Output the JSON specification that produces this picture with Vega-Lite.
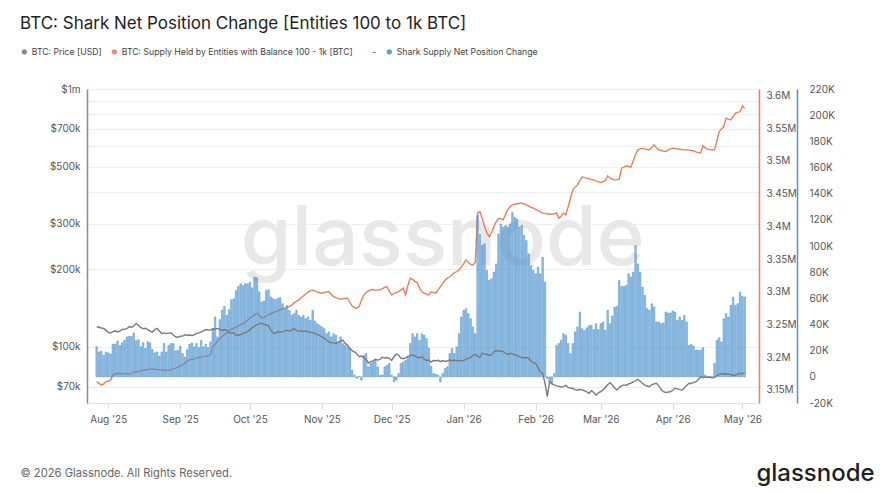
{
  "$schema": "https://vega.github.io/schema/vega-lite/v6.json",
  "width": 672,
  "height": 314,
  "autosize": {"type": "none"},
  "padding": {"left": 87, "top": 89, "right": 128, "bottom": 90},
  "background": "#ffffff",
  "config": {
    "font": "Inter",
    "view": {"stroke": null},
    "axis": {"labelFont": "Inter", "labelFontSize": 10, "labelColor": "#555555", "titleFont": "Inter"},
    "legend": {"labelFont": "Inter"}
  },
  "title": {
    "text": "BTC: Shark Net Position Change [Entities 100 to 1k BTC]",
    "anchor": "start",
    "frame": "group",
    "dx": -67,
    "offset": 14,
    "fontSize": 17,
    "fontWeight": 400,
    "color": "#1e1e1e",
    "font": "Inter"
  },
  "data": {
    "values": [
      {"date": "2025-07-27", "price": 119500, "supply": 3162700, "net": 23000},
      {"date": "2025-07-28", "price": 119000, "supply": 3160000, "net": 19000},
      {"date": "2025-07-29", "price": 118200, "supply": 3157700, "net": 19500},
      {"date": "2025-07-30", "price": 117800, "supply": 3159000, "net": 16500},
      {"date": "2025-07-31", "price": 116000, "supply": 3162700, "net": 19000},
      {"date": "2025-08-01", "price": 113700, "supply": 3163500, "net": 18300},
      {"date": "2025-08-02", "price": 113000, "supply": 3165300, "net": 17300},
      {"date": "2025-08-03", "price": 114500, "supply": 3172900, "net": 25000},
      {"date": "2025-08-04", "price": 115300, "supply": 3174000, "net": 25000},
      {"date": "2025-08-05", "price": 114200, "supply": 3175500, "net": 27400},
      {"date": "2025-08-06", "price": 115000, "supply": 3175000, "net": 24000},
      {"date": "2025-08-07", "price": 117000, "supply": 3174800, "net": 26000},
      {"date": "2025-08-08", "price": 116800, "supply": 3175200, "net": 28000},
      {"date": "2025-08-09", "price": 117500, "supply": 3174600, "net": 30500},
      {"date": "2025-08-10", "price": 119500, "supply": 3174500, "net": 31000},
      {"date": "2025-08-11", "price": 119000, "supply": 3176000, "net": 31000},
      {"date": "2025-08-12", "price": 120500, "supply": 3177200, "net": 33500},
      {"date": "2025-08-13", "price": 123200, "supply": 3178000, "net": 27500},
      {"date": "2025-08-14", "price": 121000, "supply": 3177800, "net": 28400},
      {"date": "2025-08-15", "price": 118500, "supply": 3179000, "net": 23000},
      {"date": "2025-08-16", "price": 117600, "supply": 3180000, "net": 26000},
      {"date": "2025-08-17", "price": 118000, "supply": 3180800, "net": 21600},
      {"date": "2025-08-18", "price": 116500, "supply": 3181200, "net": 26700},
      {"date": "2025-08-19", "price": 115000, "supply": 3181600, "net": 26000},
      {"date": "2025-08-20", "price": 114000, "supply": 3182200, "net": 20800},
      {"date": "2025-08-21", "price": 116500, "supply": 3181500, "net": 18300},
      {"date": "2025-08-22", "price": 117800, "supply": 3181000, "net": 19000},
      {"date": "2025-08-23", "price": 115200, "supply": 3180800, "net": 15700},
      {"date": "2025-08-24", "price": 112700, "supply": 3180600, "net": 19000},
      {"date": "2025-08-25", "price": 113200, "supply": 3180000, "net": 25400},
      {"date": "2025-08-26", "price": 112500, "supply": 3179800, "net": 19000},
      {"date": "2025-08-27", "price": 113000, "supply": 3179500, "net": 24000},
      {"date": "2025-08-28", "price": 113300, "supply": 3181000, "net": 25400},
      {"date": "2025-08-29", "price": 111000, "supply": 3182200, "net": 25400},
      {"date": "2025-08-30", "price": 109300, "supply": 3183200, "net": 19800},
      {"date": "2025-08-31", "price": 108800, "supply": 3185000, "net": 20300},
      {"date": "2025-09-01", "price": 109800, "supply": 3186800, "net": 23400},
      {"date": "2025-09-02", "price": 110000, "supply": 3188200, "net": 17800},
      {"date": "2025-09-03", "price": 111300, "supply": 3191000, "net": 15200},
      {"date": "2025-09-04", "price": 110800, "supply": 3193800, "net": 20800},
      {"date": "2025-09-05", "price": 111000, "supply": 3195900, "net": 24900},
      {"date": "2025-09-06", "price": 110600, "supply": 3196500, "net": 25900},
      {"date": "2025-09-07", "price": 111200, "supply": 3197500, "net": 22900},
      {"date": "2025-09-08", "price": 112700, "supply": 3199000, "net": 25400},
      {"date": "2025-09-09", "price": 113200, "supply": 3199800, "net": 22300},
      {"date": "2025-09-10", "price": 114000, "supply": 3200300, "net": 27900},
      {"date": "2025-09-11", "price": 115200, "supply": 3200900, "net": 22900},
      {"date": "2025-09-12", "price": 116700, "supply": 3201800, "net": 24900},
      {"date": "2025-09-13", "price": 116200, "supply": 3202500, "net": 22300},
      {"date": "2025-09-14", "price": 116000, "supply": 3203500, "net": 26700},
      {"date": "2025-09-15", "price": 117400, "supply": 3216200, "net": 36800},
      {"date": "2025-09-16", "price": 117000, "supply": 3220000, "net": 45700},
      {"date": "2025-09-17", "price": 117800, "supply": 3224000, "net": 30500},
      {"date": "2025-09-18", "price": 116700, "supply": 3228000, "net": 43700},
      {"date": "2025-09-19", "price": 116200, "supply": 3231500, "net": 50800},
      {"date": "2025-09-20", "price": 116400, "supply": 3234500, "net": 53800},
      {"date": "2025-09-21", "price": 116000, "supply": 3237000, "net": 47000},
      {"date": "2025-09-22", "price": 113500, "supply": 3240000, "net": 51300},
      {"date": "2025-09-23", "price": 112800, "supply": 3242500, "net": 58900},
      {"date": "2025-09-24", "price": 113200, "supply": 3244300, "net": 59700},
      {"date": "2025-09-25", "price": 111000, "supply": 3246000, "net": 66000},
      {"date": "2025-09-26", "price": 110800, "supply": 3247800, "net": 69000},
      {"date": "2025-09-27", "price": 111500, "supply": 3249500, "net": 71100},
      {"date": "2025-09-28", "price": 112700, "supply": 3250900, "net": 69600},
      {"date": "2025-09-29", "price": 113300, "supply": 3254000, "net": 71100},
      {"date": "2025-09-30", "price": 114400, "supply": 3257000, "net": 71100},
      {"date": "2025-10-01", "price": 116500, "supply": 3260000, "net": 72100},
      {"date": "2025-10-02", "price": 118500, "supply": 3262100, "net": 68000},
      {"date": "2025-10-03", "price": 120200, "supply": 3265000, "net": 76200},
      {"date": "2025-10-04", "price": 121800, "supply": 3267300, "net": 75700},
      {"date": "2025-10-05", "price": 122500, "supply": 3264000, "net": 65000},
      {"date": "2025-10-06", "price": 123500, "supply": 3259600, "net": 57000},
      {"date": "2025-10-07", "price": 122000, "supply": 3261000, "net": 58000},
      {"date": "2025-10-08", "price": 121500, "supply": 3263000, "net": 66000},
      {"date": "2025-10-09", "price": 120500, "supply": 3265000, "net": 66500},
      {"date": "2025-10-10", "price": 116000, "supply": 3266500, "net": 61000},
      {"date": "2025-10-11", "price": 113200, "supply": 3268000, "net": 59700},
      {"date": "2025-10-12", "price": 112700, "supply": 3269700, "net": 59000},
      {"date": "2025-10-13", "price": 114500, "supply": 3271000, "net": 60000},
      {"date": "2025-10-14", "price": 113800, "supply": 3272500, "net": 60500},
      {"date": "2025-10-15", "price": 114400, "supply": 3274000, "net": 55900},
      {"date": "2025-10-16", "price": 115000, "supply": 3275200, "net": 52000},
      {"date": "2025-10-17", "price": 116000, "supply": 3276500, "net": 54600},
      {"date": "2025-10-18", "price": 115000, "supply": 3277400, "net": 50800},
      {"date": "2025-10-19", "price": 116200, "supply": 3280000, "net": 47000},
      {"date": "2025-10-20", "price": 117500, "supply": 3283000, "net": 48300},
      {"date": "2025-10-21", "price": 115500, "supply": 3285500, "net": 50800},
      {"date": "2025-10-22", "price": 114800, "supply": 3287600, "net": 47000},
      {"date": "2025-10-23", "price": 115500, "supply": 3290500, "net": 45700},
      {"date": "2025-10-24", "price": 114400, "supply": 3293500, "net": 47000},
      {"date": "2025-10-25", "price": 115000, "supply": 3296500, "net": 44400},
      {"date": "2025-10-26", "price": 114400, "supply": 3299500, "net": 45700},
      {"date": "2025-10-27", "price": 113800, "supply": 3301500, "net": 43200},
      {"date": "2025-10-28", "price": 113200, "supply": 3302900, "net": 50800},
      {"date": "2025-10-29", "price": 112700, "supply": 3301000, "net": 42700},
      {"date": "2025-10-30", "price": 111500, "supply": 3299500, "net": 40600},
      {"date": "2025-10-31", "price": 110500, "supply": 3298500, "net": 39400},
      {"date": "2025-11-01", "price": 109300, "supply": 3297900, "net": 38100},
      {"date": "2025-11-02", "price": 108000, "supply": 3299000, "net": 36800},
      {"date": "2025-11-03", "price": 106000, "supply": 3299800, "net": 33000},
      {"date": "2025-11-04", "price": 104500, "supply": 3300300, "net": 34300},
      {"date": "2025-11-05", "price": 103800, "supply": 3296000, "net": 30500},
      {"date": "2025-11-06", "price": 103500, "supply": 3292700, "net": 33000},
      {"date": "2025-11-07", "price": 103000, "supply": 3291000, "net": 31700},
      {"date": "2025-11-08", "price": 104200, "supply": 3289500, "net": 26700},
      {"date": "2025-11-09", "price": 105000, "supply": 3288700, "net": 30500},
      {"date": "2025-11-10", "price": 106100, "supply": 3289500, "net": 25400},
      {"date": "2025-11-11", "price": 103000, "supply": 3290000, "net": 24100},
      {"date": "2025-11-12", "price": 101500, "supply": 3290200, "net": 22900},
      {"date": "2025-11-13", "price": 98600, "supply": 3284000, "net": 21600},
      {"date": "2025-11-14", "price": 96500, "supply": 3278400, "net": 5100},
      {"date": "2025-11-15", "price": 95500, "supply": 3276000, "net": 1300},
      {"date": "2025-11-16", "price": 94000, "supply": 3274900, "net": -1300},
      {"date": "2025-11-17", "price": 91500, "supply": 3277400, "net": 400},
      {"date": "2025-11-18", "price": 92000, "supply": 3287000, "net": -2500},
      {"date": "2025-11-19", "price": 90800, "supply": 3295300, "net": 16500},
      {"date": "2025-11-20", "price": 89400, "supply": 3299000, "net": 17800},
      {"date": "2025-11-21", "price": 86500, "supply": 3301500, "net": 7600},
      {"date": "2025-11-22", "price": 87500, "supply": 3302900, "net": 10200},
      {"date": "2025-11-23", "price": 88200, "supply": 3303500, "net": 11400},
      {"date": "2025-11-24", "price": 89500, "supply": 3302500, "net": 12700},
      {"date": "2025-11-25", "price": 88800, "supply": 3303000, "net": 7600},
      {"date": "2025-11-26", "price": 89400, "supply": 3302900, "net": 1300},
      {"date": "2025-11-27", "price": 91000, "supply": 3305000, "net": 1300},
      {"date": "2025-11-28", "price": 90500, "supply": 3306800, "net": 7600},
      {"date": "2025-11-29", "price": 90800, "supply": 3308000, "net": 8900},
      {"date": "2025-11-30", "price": 90200, "supply": 3301000, "net": 10200},
      {"date": "2025-12-01", "price": 88500, "supply": 3295300, "net": 1300},
      {"date": "2025-12-02", "price": 91500, "supply": 3297500, "net": -3800},
      {"date": "2025-12-03", "price": 93700, "supply": 3299000, "net": -2500},
      {"date": "2025-12-04", "price": 92800, "supply": 3300300, "net": 2500},
      {"date": "2025-12-05", "price": 90200, "supply": 3303000, "net": 10200},
      {"date": "2025-12-06", "price": 89800, "supply": 3305500, "net": 11400},
      {"date": "2025-12-07", "price": 90500, "supply": 3295300, "net": 12700},
      {"date": "2025-12-08", "price": 91800, "supply": 3310000, "net": 15200},
      {"date": "2025-12-09", "price": 92400, "supply": 3320800, "net": 25400},
      {"date": "2025-12-10", "price": 92900, "supply": 3319000, "net": 33000},
      {"date": "2025-12-11", "price": 92200, "supply": 3316000, "net": 30500},
      {"date": "2025-12-12", "price": 91000, "supply": 3314100, "net": 33000},
      {"date": "2025-12-13", "price": 90600, "supply": 3306000, "net": 27900},
      {"date": "2025-12-14", "price": 91500, "supply": 3300000, "net": 33000},
      {"date": "2025-12-15", "price": 89500, "supply": 3297900, "net": 31700},
      {"date": "2025-12-16", "price": 88500, "supply": 3296500, "net": 29200},
      {"date": "2025-12-17", "price": 88800, "supply": 3295300, "net": 22000},
      {"date": "2025-12-18", "price": 87200, "supply": 3300000, "net": 8000},
      {"date": "2025-12-19", "price": 88400, "supply": 3299000, "net": 2500},
      {"date": "2025-12-20", "price": 88200, "supply": 3298000, "net": 2000},
      {"date": "2025-12-21", "price": 88600, "supply": 3302900, "net": 1300},
      {"date": "2025-12-22", "price": 87500, "supply": 3308000, "net": -3800},
      {"date": "2025-12-23", "price": 88400, "supply": 3313000, "net": 2500},
      {"date": "2025-12-24", "price": 87800, "supply": 3318000, "net": 6400},
      {"date": "2025-12-25", "price": 88000, "supply": 3320800, "net": 7600},
      {"date": "2025-12-26", "price": 88800, "supply": 3323000, "net": 17800},
      {"date": "2025-12-27", "price": 88300, "supply": 3326000, "net": 21600},
      {"date": "2025-12-28", "price": 88600, "supply": 3329000, "net": 17800},
      {"date": "2025-12-29", "price": 88200, "supply": 3331000, "net": 22900},
      {"date": "2025-12-30", "price": 88300, "supply": 3333500, "net": 33000},
      {"date": "2025-12-31", "price": 88500, "supply": 3338000, "net": 45700},
      {"date": "2026-01-01", "price": 88200, "supply": 3343000, "net": 50800},
      {"date": "2026-01-02", "price": 89500, "supply": 3348800, "net": 52100},
      {"date": "2026-01-03", "price": 90200, "supply": 3345000, "net": 48300},
      {"date": "2026-01-04", "price": 90800, "supply": 3342000, "net": 44400},
      {"date": "2026-01-05", "price": 92500, "supply": 3341100, "net": 38100},
      {"date": "2026-01-06", "price": 93400, "supply": 3345000, "net": 33000},
      {"date": "2026-01-07", "price": 92000, "supply": 3420200, "net": 123200},
      {"date": "2026-01-08", "price": 91200, "supply": 3422600, "net": 109000},
      {"date": "2026-01-09", "price": 94300, "supply": 3412000, "net": 100300},
      {"date": "2026-01-10", "price": 93700, "supply": 3399700, "net": 101600},
      {"date": "2026-01-11", "price": 93500, "supply": 3390000, "net": 81300},
      {"date": "2026-01-12", "price": 92500, "supply": 3384400, "net": 73700},
      {"date": "2026-01-13", "price": 92900, "supply": 3390000, "net": 74900},
      {"date": "2026-01-14", "price": 95500, "supply": 3399700, "net": 80000},
      {"date": "2026-01-15", "price": 96800, "supply": 3407000, "net": 86300},
      {"date": "2026-01-16", "price": 96000, "supply": 3412500, "net": 109200},
      {"date": "2026-01-17", "price": 96500, "supply": 3411500, "net": 116800},
      {"date": "2026-01-18", "price": 95800, "supply": 3410000, "net": 114300},
      {"date": "2026-01-19", "price": 94200, "supply": 3418000, "net": 115600},
      {"date": "2026-01-20", "price": 93500, "supply": 3425200, "net": 114300},
      {"date": "2026-01-21", "price": 94300, "supply": 3430000, "net": 116800},
      {"date": "2026-01-22", "price": 93800, "supply": 3432900, "net": 125700},
      {"date": "2026-01-23", "price": 93000, "supply": 3434000, "net": 121900},
      {"date": "2026-01-24", "price": 92500, "supply": 3434500, "net": 120600},
      {"date": "2026-01-25", "price": 91500, "supply": 3435000, "net": 114300},
      {"date": "2026-01-26", "price": 90800, "supply": 3435500, "net": 115600},
      {"date": "2026-01-27", "price": 90500, "supply": 3434500, "net": 108000},
      {"date": "2026-01-28", "price": 91000, "supply": 3433000, "net": 104100},
      {"date": "2026-01-29", "price": 90200, "supply": 3431000, "net": 94000},
      {"date": "2026-01-30", "price": 88000, "supply": 3429000, "net": 85100},
      {"date": "2026-01-31", "price": 86800, "supply": 3427800, "net": 81300},
      {"date": "2026-02-01", "price": 86200, "supply": 3426000, "net": 78700},
      {"date": "2026-02-02", "price": 83000, "supply": 3424000, "net": 83800},
      {"date": "2026-02-03", "price": 80000, "supply": 3422000, "net": 78700},
      {"date": "2026-02-04", "price": 78800, "supply": 3420200, "net": 91400},
      {"date": "2026-02-05", "price": 72500, "supply": 3419500, "net": 72400},
      {"date": "2026-02-06", "price": 64100, "supply": 3419000, "net": -1300},
      {"date": "2026-02-07", "price": 73200, "supply": 3419100, "net": -3800},
      {"date": "2026-02-08", "price": 71800, "supply": 3418500, "net": -5100},
      {"date": "2026-02-09", "price": 71100, "supply": 3419500, "net": 2500},
      {"date": "2026-02-10", "price": 70500, "supply": 3420200, "net": 24100},
      {"date": "2026-02-11", "price": 70200, "supply": 3412500, "net": 25400},
      {"date": "2026-02-12", "price": 69800, "supply": 3416000, "net": 27900},
      {"date": "2026-02-13", "price": 70000, "supply": 3420200, "net": 33000},
      {"date": "2026-02-14", "price": 70800, "supply": 3417600, "net": 31700},
      {"date": "2026-02-15", "price": 69500, "supply": 3430000, "net": 25400},
      {"date": "2026-02-16", "price": 69200, "supply": 3443000, "net": 17800},
      {"date": "2026-02-17", "price": 69000, "supply": 3455800, "net": 25400},
      {"date": "2026-02-18", "price": 68200, "supply": 3460000, "net": 34300},
      {"date": "2026-02-19", "price": 67800, "supply": 3463400, "net": 38100},
      {"date": "2026-02-20", "price": 68400, "supply": 3470000, "net": 49500},
      {"date": "2026-02-21", "price": 68000, "supply": 3475600, "net": 36800},
      {"date": "2026-02-22", "price": 67500, "supply": 3474500, "net": 35600},
      {"date": "2026-02-23", "price": 66800, "supply": 3473700, "net": 37500},
      {"date": "2026-02-24", "price": 66000, "supply": 3472500, "net": 39000},
      {"date": "2026-02-25", "price": 67500, "supply": 3471800, "net": 39400},
      {"date": "2026-02-26", "price": 66500, "supply": 3471100, "net": 36000},
      {"date": "2026-02-27", "price": 65000, "supply": 3469500, "net": 40600},
      {"date": "2026-02-28", "price": 66200, "supply": 3468000, "net": 36100},
      {"date": "2026-03-01", "price": 67000, "supply": 3467000, "net": 40600},
      {"date": "2026-03-02", "price": 68000, "supply": 3468500, "net": 41900},
      {"date": "2026-03-03", "price": 69500, "supply": 3470000, "net": 35600},
      {"date": "2026-03-04", "price": 71200, "supply": 3477200, "net": 50800},
      {"date": "2026-03-05", "price": 72500, "supply": 3474000, "net": 40600},
      {"date": "2026-03-06", "price": 71000, "supply": 3472000, "net": 46500},
      {"date": "2026-03-07", "price": 69200, "supply": 3471100, "net": 53300},
      {"date": "2026-03-08", "price": 68000, "supply": 3471500, "net": 53800},
      {"date": "2026-03-09", "price": 69600, "supply": 3472200, "net": 73700},
      {"date": "2026-03-10", "price": 70500, "supply": 3489000, "net": 69100},
      {"date": "2026-03-11", "price": 71100, "supply": 3490500, "net": 69100},
      {"date": "2026-03-12", "price": 70800, "supply": 3492500, "net": 69800},
      {"date": "2026-03-13", "price": 71800, "supply": 3491500, "net": 78700},
      {"date": "2026-03-14", "price": 72200, "supply": 3490500, "net": 76200},
      {"date": "2026-03-15", "price": 73000, "supply": 3500000, "net": 80000},
      {"date": "2026-03-16", "price": 73800, "supply": 3510000, "net": 100300},
      {"date": "2026-03-17", "price": 74800, "supply": 3517000, "net": 86300},
      {"date": "2026-03-18", "price": 73500, "supply": 3518500, "net": 80000},
      {"date": "2026-03-19", "price": 72200, "supply": 3519600, "net": 68600},
      {"date": "2026-03-20", "price": 71000, "supply": 3518500, "net": 62200},
      {"date": "2026-03-21", "price": 70400, "supply": 3517500, "net": 52100},
      {"date": "2026-03-22", "price": 70000, "supply": 3517000, "net": 50800},
      {"date": "2026-03-23", "price": 71200, "supply": 3520000, "net": 55900},
      {"date": "2026-03-24", "price": 71800, "supply": 3524600, "net": 53300},
      {"date": "2026-03-25", "price": 72200, "supply": 3520000, "net": 41900},
      {"date": "2026-03-26", "price": 70500, "supply": 3517000, "net": 41900},
      {"date": "2026-03-27", "price": 68400, "supply": 3516000, "net": 40600},
      {"date": "2026-03-28", "price": 66900, "supply": 3515000, "net": 41100},
      {"date": "2026-03-29", "price": 66500, "supply": 3514400, "net": 49500},
      {"date": "2026-03-30", "price": 66700, "supply": 3516500, "net": 48800},
      {"date": "2026-03-31", "price": 66900, "supply": 3518500, "net": 48800},
      {"date": "2026-04-01", "price": 67800, "supply": 3519600, "net": 50300},
      {"date": "2026-04-02", "price": 69000, "supply": 3519000, "net": 49500},
      {"date": "2026-04-03", "price": 68600, "supply": 3518500, "net": 43200},
      {"date": "2026-04-04", "price": 68200, "supply": 3518000, "net": 45700},
      {"date": "2026-04-05", "price": 68000, "supply": 3517500, "net": 43200},
      {"date": "2026-04-06", "price": 69200, "supply": 3517200, "net": 47000},
      {"date": "2026-04-07", "price": 70800, "supply": 3517000, "net": 41900},
      {"date": "2026-04-08", "price": 72200, "supply": 3516500, "net": 24100},
      {"date": "2026-04-09", "price": 72000, "supply": 3516000, "net": 24900},
      {"date": "2026-04-10", "price": 72800, "supply": 3515400, "net": 23400},
      {"date": "2026-04-11", "price": 73200, "supply": 3514000, "net": 20300},
      {"date": "2026-04-12", "price": 74500, "supply": 3512800, "net": 20300},
      {"date": "2026-04-13", "price": 76500, "supply": 3511900, "net": 20300},
      {"date": "2026-04-14", "price": 75800, "supply": 3523100, "net": 22300},
      {"date": "2026-04-15", "price": 76400, "supply": 3520000, "net": 1300},
      {"date": "2026-04-16", "price": 76000, "supply": 3518000, "net": 300},
      {"date": "2026-04-17", "price": 76200, "supply": 3517500, "net": 500},
      {"date": "2026-04-18", "price": 75600, "supply": 3517200, "net": 300},
      {"date": "2026-04-19", "price": 76000, "supply": 3517000, "net": 10200},
      {"date": "2026-04-20", "price": 77200, "supply": 3530000, "net": 27900},
      {"date": "2026-04-21", "price": 78000, "supply": 3545000, "net": 29900},
      {"date": "2026-04-22", "price": 78900, "supply": 3549000, "net": 26700},
      {"date": "2026-04-23", "price": 78200, "supply": 3552600, "net": 44400},
      {"date": "2026-04-24", "price": 78600, "supply": 3565400, "net": 48300},
      {"date": "2026-04-25", "price": 78400, "supply": 3564000, "net": 45700},
      {"date": "2026-04-26", "price": 78000, "supply": 3562800, "net": 54600},
      {"date": "2026-04-27", "price": 77500, "supply": 3568000, "net": 61000},
      {"date": "2026-04-28", "price": 77700, "supply": 3573000, "net": 54600},
      {"date": "2026-04-29", "price": 78300, "supply": 3574200, "net": 55900},
      {"date": "2026-04-30", "price": 78900, "supply": 3575500, "net": 64800},
      {"date": "2026-05-01", "price": 78500, "supply": 3584200, "net": 61500},
      {"date": "2026-05-02", "price": 79300, "supply": 3580700, "net": 61000}
    ]
  },
  "encoding": {
    "x": {
      "field": "date",
      "type": "temporal",
      "scale": {
        "type": "utc",
        "domain": [
          {"year": 2025, "month": 7, "date": 25, "utc": true},
          {"year": 2026, "month": 5, "date": 6, "utc": true}
        ]
      },
      "axis": {
        "title": "© 2026 Glassnode. All Rights Reserved.",
        "titleX": -67,
        "titleY": 73,
        "titleAlign": "left",
        "titleBaseline": "alphabetic",
        "titleFontSize": 11.2,
        "titleFontWeight": 400,
        "titleColor": "#666666",
        "format": "%b '%y",
        "tickCount": {"interval": "month", "step": 1},
        "grid": false,
        "domainColor": "#e3e3e3",
        "tickColor": "#dddddd",
        "tickSize": 6,
        "labelPadding": 5,
        "labelOverlap": false,
        "labelFlush": false
      }
    }
  },
  "layer": [
    {
      "data": {"values": [{"date": "2025-12-23", "level": 0.44, "label": "glassnode"}]},
      "mark": {
        "type": "text",
        "font": "Inter",
        "fontSize": 82,
        "fontWeight": 500,
        "color": "#e8e8e8",
        "align": "center",
        "baseline": "alphabetic"
      },
      "encoding": {
        "y": {"field": "level", "type": "quantitative", "scale": {"domain": [0, 1], "nice": false}, "axis": null},
        "text": {"field": "label", "type": "nominal"}
      }
    },
    {
      "mark": {"type": "line", "color": "#f27c59", "strokeWidth": 1.4},
      "encoding": {
        "y": {
          "field": "supply",
          "type": "quantitative",
          "scale": {"domain": [3130000, 3610000], "zero": false, "nice": false},
          "axis": {
            "orient": "right",
            "title": null,
            "values": [3150000, 3200000, 3250000, 3300000, 3350000, 3400000, 3450000, 3500000, 3550000, 3600000],
            "labelExpr": "format(datum.value / 1000000, '.2~f') + 'M'",
            "grid": false,
            "ticks": false,
            "domainColor": "#f27c59",
            "domainWidth": 1.5,
            "labelPadding": 7
          }
        }
      }
    },
    {
      "mark": {"type": "bar", "width": 1.5, "fillOpacity": 0.6, "stroke": "#3f88c8", "strokeWidth": 0.5},
      "encoding": {
        "y": {
          "field": "net",
          "type": "quantitative",
          "scale": {"domain": [-20000, 220000], "nice": false},
          "axis": {
            "orient": "right",
            "offset": 38,
            "title": "glassnode",
            "titleAngle": 0,
            "titleX": 18,
            "titleY": 391,
            "titleAlign": "center",
            "titleBaseline": "alphabetic",
            "titleFontSize": 24,
            "titleFontWeight": 500,
            "titleColor": "#1f1f1f",
            "values": [-20000, 0, 20000, 40000, 60000, 80000, 100000, 120000, 140000, 160000, 180000, 200000, 220000],
            "labelExpr": "datum.value == 0 ? '0' : (datum.value / 1000) + 'K'",
            "grid": false,
            "ticks": false,
            "domainColor": "#4f97d1",
            "domainWidth": 1.5,
            "labelPadding": 12
          }
        },
        "color": {
          "datum": "Shark Supply Net Position Change",
          "type": "nominal",
          "scale": {
            "domain": ["BTC: Price [USD]", "BTC: Supply Held by Entities with Balance 100 - 1k [BTC]", "Shark Supply Net Position Change"],
            "range": ["#888888", "#f0876a", "#5c9fd3"]
          },
          "legend": {
            "orient": "none",
            "legendX": -67,
            "legendY": -42,
            "direction": "horizontal",
            "title": null,
            "symbolType": "circle",
            "symbolSize": 28,
            "symbolOpacity": 1,
            "symbolStrokeWidth": 0,
            "labelFontSize": 8.7,
            "labelColor": "#444444",
            "labelOffset": 3,
            "labelLimit": 400,
            "columnPadding": 8,
            "labelExpr": "datum.label == 'BTC: Supply Held by Entities with Balance 100 - 1k [BTC]' ? datum.label + '\u00a0\u00a0\u00a0\u00a0\u00a0\u00a0\u00a0\u00a0-' : datum.label"
          }
        }
      }
    },
    {
      "mark": {"type": "line", "color": "#7a7a7a", "strokeWidth": 1.4},
      "encoding": {
        "y": {
          "field": "price",
          "type": "quantitative",
          "scale": {"type": "log", "domain": [60500, 1000000], "nice": false},
          "axis": {
            "orient": "left",
            "title": null,
            "values": [70000, 100000, 200000, 300000, 400000, 500000, 600000, 700000, 800000, 900000, 1000000],
            "labelExpr": "datum.value == 1000000 ? '$1m' : (indexof([70000, 100000, 200000, 300000, 500000, 700000], datum.value) >= 0 ? '$' + (datum.value / 1000) + 'k' : '')",
            "grid": true,
            "gridColor": "#efefef",
            "ticks": false,
            "domainColor": "#8c8c8c",
            "domainWidth": 1.5,
            "labelPadding": 7
          }
        }
      }
    }
  ],
  "resolve": {"scale": {"y": "independent"}}
}
